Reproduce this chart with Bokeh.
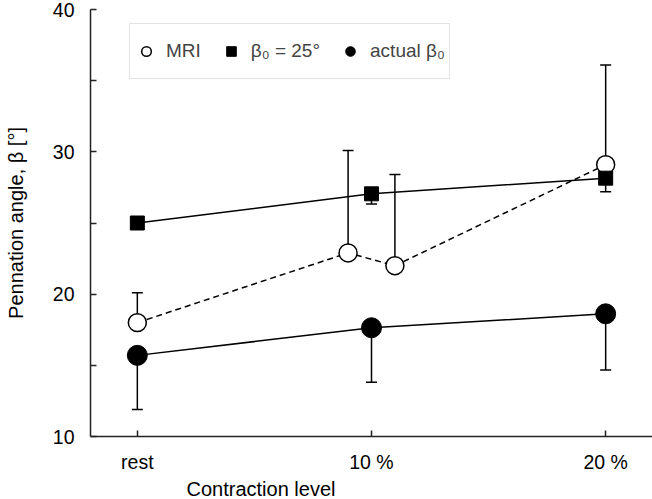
from bokeh.plotting import figure
from bokeh.models import FixedTicker, Legend, LegendItem, Title, Range1d
from bokeh.embed import file_html
from bokeh.resources import INLINE

# ---- data ----
level_labels = ["rest", "10 %", "20 %"]
level_pos = [0, 1, 2]

mri_x = [0.0, 0.9, 1.1, 2.0]
mri_y = [18.0, 22.9, 22.0, 29.1]
mri_err_up = [2.1, 7.2, 6.4, 7.0]

b25_x = [0, 1, 2]
b25_y = [25.0, 27.05, 28.15]
b25_err_down = [0.0, 0.72, 0.95]

act_x = [0, 1, 2]
act_y = [15.7, 17.64, 18.62]
act_err_down = [3.8, 3.83, 3.95]

FONT = "Liberation Sans"

p = figure(width=652, height=499, x_range=Range1d(-0.2, 2.2), y_range=Range1d(10, 40),
           output_backend="svg", toolbar_location=None,
           min_border_left=90, min_border_right=0, min_border_top=9, min_border_bottom=62)
p.grid.visible = False
p.outline_line_color = None
p.background_fill_color = "white"

# axes
p.xaxis.ticker = FixedTicker(ticks=level_pos)
p.xaxis.major_label_overrides = {pos: lab for pos, lab in zip(level_pos, level_labels)}
p.yaxis.ticker = FixedTicker(ticks=[10, 20, 30, 40], minor_ticks=[15, 25, 35])
for ax in (p.xaxis[0], p.yaxis[0]):
    ax.axis_line_width = 1.5
    ax.axis_line_color = "#222222"
    ax.major_tick_line_width = 1.5
    ax.major_tick_line_color = "#222222"
    ax.minor_tick_line_width = 1.5
    ax.minor_tick_line_color = "#222222"
    ax.major_tick_in = 6
    ax.major_tick_out = 0
    ax.minor_tick_in = 6
    ax.minor_tick_out = 0
    ax.major_label_text_font = FONT
    ax.major_label_text_font_size = "19.5px"
    ax.major_label_text_color = "black"
    ax.axis_label_text_font = FONT
    ax.axis_label_text_font_size = "20px"
    ax.axis_label_text_font_style = "normal"
    ax.axis_label_text_color = "black"
p.xaxis.minor_tick_line_color = None
p.xaxis.major_label_standoff = 14
p.yaxis.major_label_standoff = 16
p.yaxis.axis_label = "Pennation angle, β [°]"
p.yaxis.axis_label_standoff = 23

p.add_layout(Title(text="Contraction level", align="left", offset=96, text_font=FONT,
                   text_font_size="20px", text_font_style="normal", text_color="black",
                   standoff=0), "below")

# lines
p.line(mri_x, mri_y, line_color="black", line_width=1.5, line_dash="6 4")
p.line(b25_x, b25_y, line_color="black", line_width=1.5)
p.line(act_x, act_y, line_color="black", line_width=1.5)

# MRI error bars (upper) and markers
mri_top = [y + e for y, e in zip(mri_y, mri_err_up)]
p.segment(mri_x, mri_y, mri_x, mri_top, line_color="black", line_width=1.5)
p.scatter(mri_x, mri_top, marker="dash", size=11, line_color="black", line_width=1.5)
r_mri = p.scatter(mri_x, mri_y, marker="circle", size=18, fill_color="white",
                  line_color="black", line_width=1.5)

# beta0 = 25 error bars (lower) and markers
b25_bot = [y - e for y, e in zip(b25_y, b25_err_down)]
p.segment(b25_x, b25_y, b25_x, b25_bot, line_color="black", line_width=1.5)
p.scatter(b25_x, b25_bot, marker="dash", size=11, line_color="black", line_width=1.5)
r_b25 = p.scatter(b25_x, b25_y, marker="square", size=14, fill_color="black",
                  line_color="black", line_width=1)

# actual beta0 error bars (lower) and markers
act_bot = [y - e for y, e in zip(act_y, act_err_down)]
p.segment(act_x, act_y, act_x, act_bot, line_color="black", line_width=1.5)
p.scatter(act_x, act_bot, marker="dash", size=11, line_color="black", line_width=1.5)
r_act = p.scatter(act_x, act_y, marker="circle", size=20, fill_color="black",
                  line_color="black", line_width=1)

legend = Legend(items=[LegendItem(label="MRI", renderers=[r_mri]),
                       LegendItem(label="β₀ = 25°", renderers=[r_b25]),
                       LegendItem(label="actual β₀", renderers=[r_act])],
                orientation="horizontal", location=(39, 357),
                border_line_color="#c8c8c8", border_line_width=1,
                padding=4, spacing=18, glyph_width=24, glyph_height=46,
                label_standoff=8, label_text_font=FONT, label_text_font_size="19px",
                background_fill_color="white", background_fill_alpha=1)
p.add_layout(legend)

open("out.html", "w").write(file_html(p, INLINE))
